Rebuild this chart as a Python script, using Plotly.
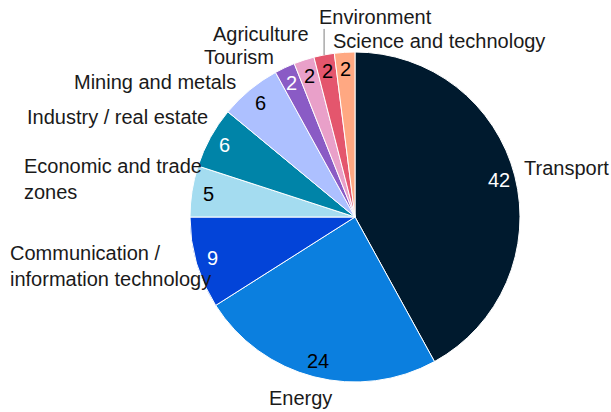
import math
import plotly.graph_objects as go

# Sector shares (clockwise from 12 o'clock)
sectors = ["Transport", "Energy", "Communication /<br>information technology",
           "Economic and trade<br>zones", "Industry / real estate", "Mining and metals",
           "Tourism", "Agriculture", "Environment", "Science and technology"]
shares = [42, 24, 9, 5, 6, 6, 2, 2, 2, 2]

colors = ["#001a2e", "#0b7fdf", "#0344d8", "#a4dcf0", "#0084a8",
          "#adc0ff", "#8a5bc5", "#e9a0c9", "#e4566d", "#ffa882"]
value_font_colors = ["white", "black", "white", "black", "white",
                     "black", "white", "black", "black", "black"]

# label placement: (xanchor, pixel shift x, pixel shift y) from the slice edge midpoint
label_style = [("left", 7, 8), ("center", -13, -21), ("right", 16, -3),
               ("right", 12, 12), ("right", 0, 21), ("right", -12, 8),
               ("right", -9, 11), ("right", 7, 26), ("left", -7, 38),
               ("left", -14, 11)]

W, H = 611, 412
dom_x = [190 / W, 520 / W]
dom_y = [30 / H, 360 / H]
FONT = "Arial, Liberation Sans, sans-serif"

fig = go.Figure(go.Pie(
    labels=[s.replace("<br>", " ") for s in sectors],
    values=shares,
    sort=False,
    direction="clockwise",
    rotation=0,
    marker=dict(colors=colors, line=dict(color="white", width=1)),
    textinfo="none",
    hoverinfo="skip",
    domain=dict(x=dom_x, y=dom_y),
))

# pie geometry in pixels
cx = (dom_x[0] + dom_x[1]) / 2 * W
cy = (1 - (dom_y[0] + dom_y[1]) / 2) * H
R = min((dom_x[1] - dom_x[0]) * W, (dom_y[1] - dom_y[0]) * H) / 2

total = sum(shares)
annotations = []
shapes = []
cum = 0
for i, (name, v) in enumerate(zip(sectors, shares)):
    mid = (cum + v / 2) / total * 2 * math.pi
    cum += v
    s, c = math.sin(mid), math.cos(mid)
    # value near the outer edge
    vx, vy = cx + 0.9 * R * s, cy - 0.9 * R * c
    annotations.append(dict(
        x=vx / W, y=1 - vy / H, xref="paper", yref="paper", text=str(v),
        showarrow=False, xanchor="center", yanchor="middle",
        font=dict(family=FONT, size=20, color=value_font_colors[i])))
    # category name outside the pie
    ex, ey = cx + R * s, cy - R * c
    anchor, dx, dy = label_style[i]
    annotations.append(dict(
        x=ex / W, y=1 - ey / H, xref="paper", yref="paper", text=name,
        showarrow=False, xanchor=anchor, yanchor="middle", align="left",
        xshift=dx, yshift=dy,
        font=dict(family=FONT, size=20, color="#1a1a1a")))
    if name == "Environment":
        shapes.append(dict(type="line", xref="paper", yref="paper",
                           x0=ex / W, x1=ex / W, y0=1 - ey / H, y1=1 - (ey - 26) / H,
                           line=dict(color="#7f7f7f", width=1)))

fig.update_layout(
    width=W, height=H,
    margin=dict(l=0, r=0, t=0, b=0),
    paper_bgcolor="white", plot_bgcolor="white",
    showlegend=False,
    annotations=annotations,
    shapes=shapes,
)

fig.write_html("out.html")
